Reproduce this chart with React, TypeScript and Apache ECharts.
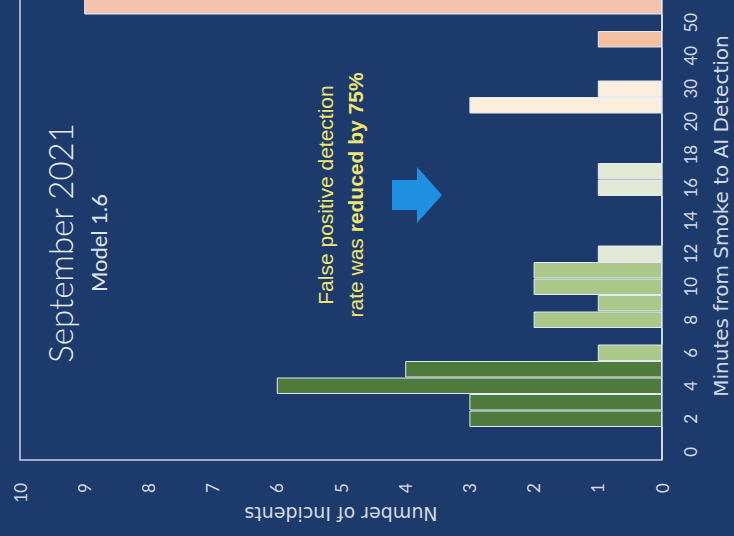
import React, { useEffect, useRef } from "react";
import * as echarts from "echarts";

const categories = ["0","1","2","3","4","5","6","7","8","9","10","11","12","13","14","15","16","17","18","19","20","25","30","35","40","45","50","60"];
const incidents = [0,0,3,3,6,4,1,0,2,1,2,2,1,0,0,0,1,1,0,0,0,3,1,0,0,1,0,9];
const barColors = [
  "#4f7a3d","#4f7a3d","#4f7a3d","#4f7a3d","#4f7a3d","#4f7a3d",
  "#a9c88a","#a9c88a","#a9c88a","#a9c88a","#a9c88a","#a9c88a",
  "#e2ead5","#e2ead5","#e2ead5","#e2ead5","#e2ead5","#e2ead5",
  "#fbeedc","#fbeedc","#fbeedc","#fbeedc","#fbeedc",
  "#f3c0a3","#f3c0a3","#f3c0a3","#f3c0a3","#f3c3ae"
];
const valueTicks = { min: 0, max: 10, interval: 1 };
const titleText = "September 2021";
const subtitleText = "Model 1.6";
const noteLine1 = "False positive detection";
const noteLine2a = "rate was ";
const noteLine2b = "reduced by 75%";
const xName = "Number of Incidents";
const yName = "Minutes from Smoke to AI Detection";

export default function App() {
  const ref = useRef<HTMLDivElement>(null);
  useEffect(() => {
    if (!ref.current) return;
    const chart = echarts.init(ref.current, undefined, { renderer: "svg" });
    const axisText = "#d3d9e4";
    const font = "Lato, 'Open Sans', sans-serif";
    const wide = "'DejaVu Sans', sans-serif";
    chart.setOption({
      animation: false,
      backgroundColor: "#1d3a6d",
      grid: {
        left: 20, right: 72, top: -2, bottom: 76,
        outerBoundsMode: "none",
        containLabel: false,
        show: true, borderColor: "#c9d1de", borderWidth: 1.5, backgroundColor: "transparent",
      },
      xAxis: {
        type: "value",
        inverse: true,
        min: valueTicks.min, max: valueTicks.max, interval: valueTicks.interval,
        axisLine: { show: false },
        axisTick: { show: false },
        splitLine: { show: false },
        axisLabel: { rotate: 90, margin: 23, color: axisText, fontSize: 17, fontFamily: font },
        name: xName,
        nameLocation: "middle",
        nameRotate: 180,
        nameGap: 44,
        nameMoveOverlap: false,
        nameTextStyle: { color: axisText, fontSize: 19, fontFamily: wide },
      },
      yAxis: {
        type: "category",
        position: "right",
        data: categories,
        axisLine: { show: false },
        axisTick: { show: false },
        axisLabel: { rotate: 90, interval: 1, margin: 20, color: axisText, fontSize: 17, fontFamily: font },
      },
      series: [
        {
          type: "bar",
          barCategoryGap: 0,
          data: incidents.map((v, i) => ({
            value: v,
            itemStyle: { color: barColors[i], borderColor: "#e4e9ef", borderWidth: 1 },
          })),
        },
      ],
      graphic: [
        {
          type: "text", x: 721, y: 216, rotation: Math.PI / 2,
          style: { text: yName, fill: axisText, fontSize: 20, fontFamily: wide, textAlign: "center", textVerticalAlign: "middle" },
        },
        {
          type: "text", x: 60, y: 243, rotation: Math.PI / 2,
          style: { text: titleText, fill: "#e8ecf3", fontSize: 33, fontFamily: font, fontWeight: 300, textAlign: "center", textVerticalAlign: "middle" },
        },
        {
          type: "text", x: 98, y: 243, rotation: Math.PI / 2,
          style: { text: subtitleText, fill: "#dfe4ee", fontSize: 22, fontFamily: font, textAlign: "center", textVerticalAlign: "middle" },
        },
        {
          type: "text", x: 340, y: 195, rotation: Math.PI / 2,
          style: {
            text: noteLine1 + "\n{n|" + noteLine2a + "}{b|" + noteLine2b + "}",
            fill: "#f2e66c", fontSize: 21, fontFamily: "'Liberation Sans', Arial, sans-serif",
            textAlign: "center", textVerticalAlign: "middle", lineHeight: 30,
            rich: {
              n: { fill: "#f2e66c", fontSize: 21, fontFamily: "'Liberation Sans', Arial, sans-serif", lineHeight: 30 },
              b: { fill: "#f2e66c", fontSize: 21, fontWeight: "bold", fontFamily: "'Liberation Sans', Arial, sans-serif", lineHeight: 30 },
            },
          },
        },
        {
          type: "polygon",
          shape: { points: [[392, 180], [417, 180], [417, 167], [442, 195], [417, 223], [417, 210], [392, 210]] },
          style: { fill: "#1f8fe2" },
        },
      ],
    });
    return () => chart.dispose();
  }, []);
  return <div ref={ref} style={{ position: "fixed", left: 0, top: 0, width: 734, height: 536 }} />;
}
